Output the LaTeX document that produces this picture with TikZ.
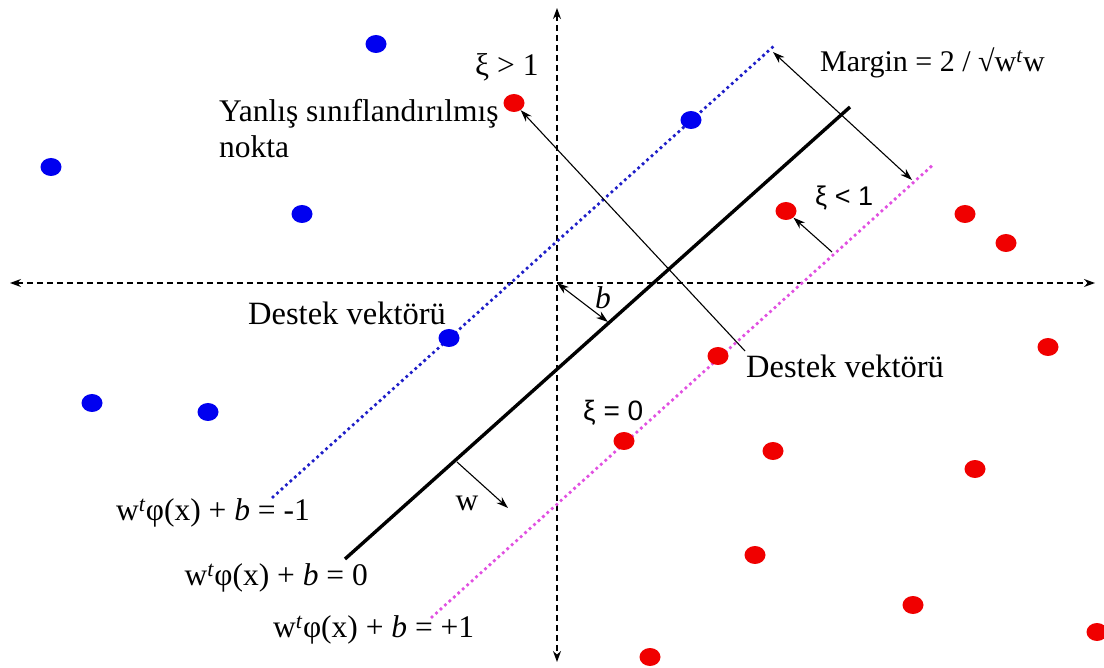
\documentclass[tikz,border=0pt]{standalone}
\usepackage{fontspec}
\setmainfont{Liberation Serif}
\newfontfamily\arialf{Liberation Sans}
\usetikzlibrary{arrows.meta,shapes.geometric}
\begin{document}
\begin{tikzpicture}[x=1pt,y=-1pt,
  axisline/.style={line width=1.1pt, dash pattern=on 6pt off 4pt, {Stealth[length=11pt,width=8pt]}-{Stealth[length=11pt,width=8pt]}},
  bdot/.style={ellipse, fill={rgb,255:red,0;green,0;blue,240}, minimum width=21pt, minimum height=18pt, inner sep=0pt},
  rdot/.style={ellipse, fill={rgb,255:red,240;green,0;blue,0}, minimum width=21pt, minimum height=18pt, inner sep=0pt},
  thinarrow/.style={line width=1.1pt, -{Stealth[length=12pt,width=8pt]}},
  dblarrow/.style={line width=1.1pt, {Stealth[length=12pt,width=8pt]}-{Stealth[length=12pt,width=8pt]}},
  lbl/.style={font=\fontsize{31.5}{36}\selectfont, inner sep=0pt},
  slbl/.style={font=\arialf\fontsize{27}{30}\selectfont, inner sep=0pt},
  bluedots/.style={line width=3.8pt, line cap=round, dash pattern=on 0pt off 6pt, draw={rgb,255:red,30;green,30;blue,200}},
  pinkdots/.style={line width=3.8pt, line cap=round, dash pattern=on 0pt off 6pt, draw={rgb,255:red,225;green,80;blue,225}},
  hyper/.style={line width=3.4pt}
]
\useasboundingbox (0,0) rectangle (1104,668);
\fill[white] (0,0) rectangle (1104,668);

% axes
\coordinate (xl) at (10,283);
\coordinate (xr) at (1095,283);
\coordinate (yt) at (557,8);
\coordinate (yb) at (557,662);
\coordinate (o) at (557,283);
\draw[axisline] (xl) -- (xr);
\draw[axisline] (yt) -- (yb);

% hyperplanes
\coordinate (bl1) at (273,497);
\coordinate (bl2) at (775,45);
\coordinate (kl1) at (345,559);
\coordinate (kl2) at (850,107);
\coordinate (pl1) at (432,617);
\coordinate (pl2) at (935,163);
\draw[bluedots] (bl1) -- (bl2);
\draw[hyper] (kl1) -- (kl2);
\draw[pinkdots] (pl1) -- (pl2);

% blue points
\node[bdot] (b1) at (376,44) {};
\node[bdot] (b2) at (51,167) {};
\node[bdot] (b3) at (302,214) {};
\node[bdot] (b4) at (691,120) {};
\node[bdot] (b5) at (449,338) {};
\node[bdot] (b6) at (92,403) {};
\node[bdot] (b7) at (208,412) {};

% red points
\node[rdot] (r1) at (514,103) {};
\node[rdot] (r2) at (786,211) {};
\node[rdot] (r3) at (965,214) {};
\node[rdot] (r4) at (1006,243) {};
\node[rdot] (r5) at (718,356) {};
\node[rdot] (r6) at (1048,347) {};
\node[rdot] (r7) at (624,441) {};
\node[rdot] (r8) at (773,451) {};
\node[rdot] (r9) at (975,469) {};
\node[rdot] (r10) at (755,555) {};
\node[rdot] (r11) at (913,605) {};
\node[rdot] (r12) at (1097,632) {};
\node[rdot] (r13) at (650,657) {};

% arrows
\coordinate (m1) at (773,52);
\coordinate (m2) at (912,180);
\draw[dblarrow] (m1) -- (m2);
\coordinate (xs1) at (745,351);
\draw[thinarrow] (xs1) -- (r1);
\coordinate (xs2) at (832,252);
\draw[thinarrow] (xs2) -- (r2);
\coordinate (bb) at (608,322);
\draw[dblarrow] (o) -- (bb);
\coordinate (w1) at (457,462);
\coordinate (w2) at (508,508);
\draw[thinarrow] (w1) -- (w2);

% labels
\node[lbl, anchor=west] (tx1) at (475,67) {ξ > 1};
\node[lbl, anchor=west, font=\fontsize{30}{36}\selectfont] (tmar) at (820,63) {Margin = 2 / √w\textsuperscript{\textit{t}}w};
\node[lbl, anchor=west, align=left] (tmis) at (219,129) {Yanlış sınıflandırılmış\\nokta};
\node[slbl, anchor=west] (tx2) at (815,198) {ξ < 1};
\node[lbl, anchor=west, font=\fontsize{32.5}{36}\selectfont] (tsv1) at (248,313) {Destek vektörü};
\node[lbl, anchor=west, font=\fontsize{32.5}{36}\selectfont] (tsv2) at (746,366) {Destek vektörü};
\node[slbl, anchor=west, font=\arialf\fontsize{28}{30}\selectfont] (tx3) at (583,413) {ξ = 0};
\node[lbl] (tb) at (603,298) {\textit{b}};
\node[lbl] (tw) at (467,503) {w};
\node[lbl, anchor=east] (teq1) at (310,513) {w\textsuperscript{\textit{t}}φ(x) + \textit{b} = -1};
\node[lbl, anchor=east] (teq2) at (368,578) {w\textsuperscript{\textit{t}}φ(x) + \textit{b} = 0};
\node[lbl, anchor=west] (teq3) at (273,630) {w\textsuperscript{\textit{t}}φ(x) + \textit{b} = +1};
\end{tikzpicture}
\end{document}
